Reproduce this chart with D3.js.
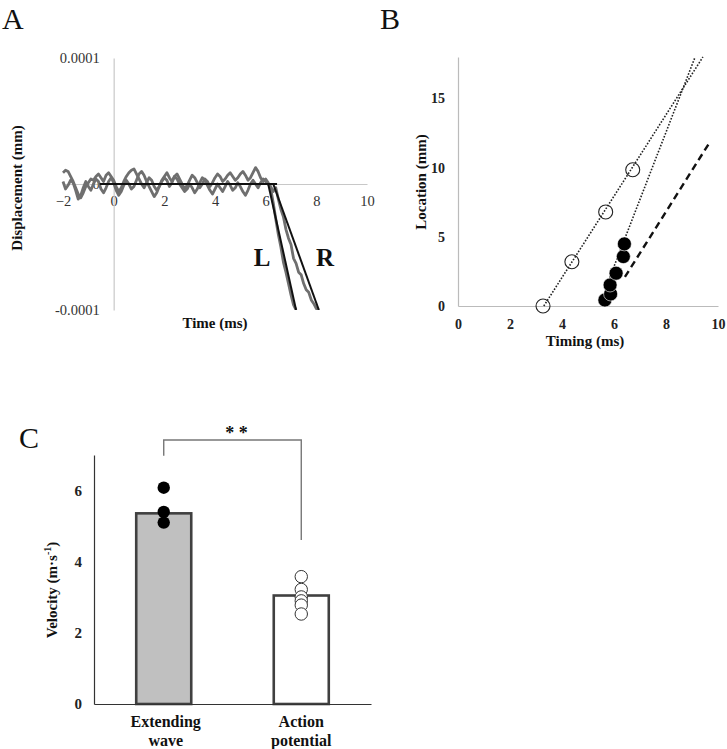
<!DOCTYPE html>
<html>
<head>
<meta charset="utf-8">
<script src="https://cdn.jsdelivr.net/npm/d3@7"></script>
<style>
body { margin: 0; background: #fff; }
text { font-family: "Liberation Serif", "Times New Roman", serif; }
</style>
</head>
<body>
<div id="chart"></div>
<script>
// ---- Panel A: displacement traces (units of 1e-5 mm), sampled every 0.1 ms from -2 ms
const traceStart = -2, traceStep = 0.1;
const traceL = [
  0.9, 1.1, 1.0, 0.6, 0.2, -0.3, -0.8, -1.1, -0.7, -0.2,
  0.1, 0.4, 0.3, 0.6, 0.8, 0.5, 0.2, 0.7, 0.9, 0.6,
  0.3, -0.2, -0.6, -0.3, 0.2, 0.6, 0.9, 1.1, 1.2, 0.8,
  0.4, 0.0, -0.3, 0.1, 0.5, 0.3, -0.2, -0.5, -0.2, 0.3,
  0.6, 0.9, 0.5, 0.2, 0.6, 0.8, 0.4, 0.0, -0.4, -0.1,
  0.3, 0.7, 0.5, 0.1, -0.3, 0.0, 0.4, 0.2, -0.2, 0.1,
  0.5, 0.8, 0.6, 0.2, 0.4, 0.7, 0.9, 0.6, 0.3, 0.5,
  0.8, 1.0, 0.7, 0.3, 0.5, 0.9, 1.3, 1.0, 0.5, 0.2,
  0.4, 0.1, -0.4, -1.5, -2.8, -4.0, -5.0, -6.2, -7.0, -7.9,
  -8.8, -9.6, -10.0
];
const traceR = [
  0.2, -0.4, -0.1, 0.3, 0.1, -0.5, -1.2, -0.9, -0.3, 0.2,
  -0.2, -0.5, 0.0, 0.4, 0.2, -0.4, -0.7, -0.3, 0.2, 0.5,
  0.1, -0.5, -0.9, -0.6, -0.1, 0.3, 0.0, -0.4, -0.2, 0.3,
  0.8, 1.0, 0.7, 0.2, -0.2, -0.6, -1.0, -0.7, -0.2, 0.2,
  0.5, 0.3, -0.2, 0.1, 0.6, 0.4, 0.0, -0.3, -0.6, -0.4,
  0.0, -0.3, -0.7, -0.4, 0.1, 0.5, 0.3, -0.1, -0.5, -0.8,
  -0.4, 0.0, -0.3, -0.6, -0.2, 0.2, -0.1, -0.5, -0.3, 0.1,
  -0.2, -0.6, -0.9, -0.5, 0.0, 0.3, 0.0, -0.3, 0.1, 0.4,
  0.2, 0.0, -0.2, -0.6, -0.3, -1.2, -2.0, -2.6, -3.6, -4.3,
  -4.8, -5.9, -6.3, -7.0, -7.2, -7.9, -8.4, -8.6, -9.2, -9.5,
  -9.9, -10.0
];
const fitFlat = [[-0.55, 0], [6.45, 0]];
const fitL = [[6.1, 0], [7.2, -10]];
const fitR = [[6.3, 0], [8.1, -10]];
const timeTicks = [-2, 0, 2, 4, 6, 8, 10];
const dispTicks = [-10, 0, 10];
const dispTickLabels = ["-0.0001", "0", "0.0001"];

// ---- Panel B: location vs timing
const openTiming = [3.27, 4.38, 5.68, 6.72];
const openLocation = [0, 3.2, 6.8, 9.85];
const filledTiming = [5.65, 5.87, 5.85, 6.08, 6.36, 6.40];
const filledLocation = [0.43, 0.87, 1.52, 2.37, 3.57, 4.49];
const fitOpen = [[3.3, 0], [9.42, 18]];
const fitFilled = [[5.7, 1.4], [9.12, 18]];
const fitDashed = [[6.42, 2.1], [9.67, 11.8]];
const timingTicks = [0, 2, 4, 6, 8, 10];
const locationTicks = [0, 5, 10, 15];

// ---- Panel C: velocity
const categories = ["Extending wave", "Action potential"];
const meanVelocity = [5.36, 3.05];
const extendingPoints = [6.08, 5.4, 5.1];
const actionPoints = [3.58, 3.22, 3.01, 2.9, 2.78, 2.53];
const velocityTicks = [0, 2, 4, 6];

const svg = d3.select("#chart").append("svg")
  .attr("width", 727)
  .attr("height", 749);

function letter(x, y, t) {
  svg.append("text").attr("x", x).attr("y", y)
    .attr("font-size", 30).attr("fill", "#111").text(t);
}

function styleAxis(g, color, fontSize, bold, textColor) {
  g.select(".domain").attr("stroke", color).attr("stroke-width", 1.2);
  g.selectAll("text")
    .attr("font-size", fontSize)
    .attr("font-weight", bold ? "bold" : "normal")
    .attr("fill", textColor)
    .attr("font-family", "'Liberation Serif', serif");
}

// ================= Panel A =================
letter(2, 29, "A");
const xA = d3.scaleLinear().domain([-2, 10]).range([63, 367]);
const yA = d3.scaleLinear().domain([-10, 10]).range([310, 58]);

const axA_x = svg.append("g")
  .attr("transform", `translate(0,${yA(0)})`)
  .call(d3.axisBottom(xA).tickValues(timeTicks).tickSize(0).tickPadding(12));
styleAxis(axA_x, "#c8c8c8", 14.5, false, "#333");

const axA_y = svg.append("g")
  .attr("transform", `translate(${xA(0)},0)`)
  .call(d3.axisLeft(yA).tickValues(dispTicks).tickSize(0).tickPadding(14)
    .tickFormat((d, i) => dispTickLabels[i]));
styleAxis(axA_y, "#c8c8c8", 14.5, false, "#333");

svg.append("clipPath").attr("id", "clipA")
  .append("rect").attr("x", 50).attr("y", yA(10)).attr("width", 330).attr("height", yA(-10) - yA(10));

const lineA = d3.line().x(d => xA(d[0])).y(d => yA(d[1]));
const toPts = arr => arr.map((v, i) => [traceStart + i * traceStep, v]);

const gA = svg.append("g").attr("clip-path", "url(#clipA)");
[traceL, traceR].forEach(tr => {
  gA.append("path").datum(toPts(tr))
    .attr("d", lineA)
    .attr("fill", "none")
    .attr("stroke", "#6f6f6f")
    .attr("stroke-width", 2.8)
    .attr("stroke-linejoin", "round");
});
[fitFlat, fitL, fitR].forEach(f => {
  gA.append("path").datum(f)
    .attr("d", lineA)
    .attr("fill", "none")
    .attr("stroke", "#111")
    .attr("stroke-width", 2);
});

svg.append("text").attr("x", 262).attr("y", 266).attr("text-anchor", "middle")
  .attr("font-size", 25).attr("font-weight", "bold").attr("fill", "#111").text("L");
svg.append("text").attr("x", 325).attr("y", 266).attr("text-anchor", "middle")
  .attr("font-size", 25).attr("font-weight", "bold").attr("fill", "#111").text("R");

svg.append("text").attr("x", 215).attr("y", 328).attr("text-anchor", "middle")
  .attr("font-size", 15).attr("font-weight", "bold").attr("fill", "#111").text("Time (ms)");
svg.append("text")
  .attr("transform", "translate(22,188) rotate(-90)")
  .attr("text-anchor", "middle")
  .attr("font-size", 15).attr("font-weight", "bold").attr("fill", "#111").text("Displacement (mm)");

// ================= Panel B =================
letter(380, 29, "B");
const xB = d3.scaleLinear().domain([0, 10]).range([458, 718]);
const yB = d3.scaleLinear().domain([0, 18]).range([306, 57]);

const axB_x = svg.append("g")
  .attr("transform", `translate(0,${yB(0)})`)
  .call(d3.axisBottom(xB).tickValues(timingTicks).tickSize(0).tickPadding(13));
styleAxis(axB_x, "#bbbbbb", 14, true, "#222");

const axB_y = svg.append("g")
  .attr("transform", `translate(${xB(0)},0)`)
  .call(d3.axisLeft(yB).tickValues(locationTicks).tickSize(0).tickPadding(13));
styleAxis(axB_y, "#bbbbbb", 14, true, "#222");

const lineB = d3.line().x(d => xB(d[0])).y(d => yB(d[1]));
[fitOpen, fitFilled].forEach(f => {
  svg.append("path").datum(f).attr("d", lineB)
    .attr("fill", "none").attr("stroke", "#222")
    .attr("stroke-width", 1.6).attr("stroke-dasharray", "1.6,1.6");
});
svg.append("path").datum(fitDashed).attr("d", lineB)
  .attr("fill", "none").attr("stroke", "#111")
  .attr("stroke-width", 2.4).attr("stroke-dasharray", "7,4.5");

svg.append("g").selectAll("circle")
  .data(openTiming.map((t, i) => [t, openLocation[i]]))
  .join("circle")
  .attr("cx", d => xB(d[0])).attr("cy", d => yB(d[1])).attr("r", 7)
  .attr("fill", "none").attr("stroke", "#222").attr("stroke-width", 1.1);

svg.append("g").selectAll("circle")
  .data(filledTiming.map((t, i) => [t, filledLocation[i]]))
  .join("circle")
  .attr("cx", d => xB(d[0])).attr("cy", d => yB(d[1])).attr("r", 7)
  .attr("fill", "#000").attr("stroke", "#fff").attr("stroke-width", 0.6);

svg.append("text").attr("x", 585).attr("y", 346).attr("text-anchor", "middle")
  .attr("font-size", 15).attr("font-weight", "bold").attr("fill", "#111").text("Timing (ms)");
svg.append("text")
  .attr("transform", "translate(426,182) rotate(-90)")
  .attr("text-anchor", "middle")
  .attr("font-size", 15).attr("font-weight", "bold").attr("fill", "#111").text("Location (mm)");

// ================= Panel C =================
letter(19, 448, "C");
const xC = d3.scaleBand().domain(categories).range([94, 371])
  .paddingInner(0.6).paddingOuter(0.307);
const yC = d3.scaleLinear().domain([0, 7]).range([704, 455]);

const axC_y = svg.append("g")
  .attr("transform", `translate(94,0)`)
  .call(d3.axisLeft(yC).tickValues(velocityTicks).tickSize(0).tickPadding(12)
    .tickFormat(d3.format("d")));
styleAxis(axC_y, "#333", 15, true, "#222");

svg.append("g").selectAll("rect")
  .data(categories)
  .join("rect")
  .attr("x", d => xC(d))
  .attr("y", (d, i) => yC(meanVelocity[i]))
  .attr("width", xC.bandwidth())
  .attr("height", (d, i) => yC(0) - yC(meanVelocity[i]))
  .attr("fill", (d, i) => i === 0 ? "#c0c0c0" : "#fff")
  .attr("stroke", "#404040")
  .attr("stroke-width", 2.6);

const axC_x = svg.append("g")
  .attr("transform", `translate(0,${yC(0)})`)
  .call(d3.axisBottom(xC).tickSize(0).tickSizeOuter(0).tickFormat(""));
styleAxis(axC_x, "#333", 15, true, "#222");

const cx1 = xC(categories[0]) + xC.bandwidth() / 2;
const cx2 = xC(categories[1]) + xC.bandwidth() / 2;

svg.append("g").selectAll("circle")
  .data(extendingPoints)
  .join("circle")
  .attr("cx", cx1).attr("cy", d => yC(d)).attr("r", 6.2)
  .attr("fill", "#000");

svg.append("g").selectAll("circle")
  .data(actionPoints)
  .join("circle")
  .attr("cx", cx2).attr("cy", d => yC(d)).attr("r", 6.2)
  .attr("fill", "#fff").attr("stroke", "#333").attr("stroke-width", 1);

// category labels
categories.forEach((c, i) => {
  const words = c.split(" ");
  const x = i === 0 ? cx1 + 2 : cx2;
  const t = svg.append("text")
    .attr("x", x)
    .attr("y", 727)
    .attr("text-anchor", "middle")
    .attr("font-size", 16).attr("font-weight", "bold").attr("fill", "#111");
  words.forEach((w, j) => {
    t.append("tspan").attr("x", x).attr("dy", j === 0 ? 0 : 18.5).text(w);
  });
});

// significance bracket
const yBracket = yC(7.42);
svg.append("path")
  .attr("d", `M${cx1},${yC(6.98)}V${yBracket}H${cx2}V${yC(4.61)}`)
  .attr("fill", "none").attr("stroke", "#777").attr("stroke-width", 1.4);
svg.append("text").attr("x", (cx1 + cx2) / 2 + 4).attr("y", yBracket - 1)
  .attr("text-anchor", "middle")
  .attr("font-size", 18).attr("font-weight", "bold").attr("fill", "#111").text("* *");

const yl = svg.append("text")
  .attr("transform", "translate(57,590) rotate(-90)")
  .attr("text-anchor", "middle")
  .attr("font-size", 15).attr("font-weight", "bold").attr("fill", "#111");
yl.append("tspan").text("Velocity (m·s");
yl.append("tspan").attr("font-size", 10).attr("dy", -6).text("-1");
yl.append("tspan").attr("dy", 6).text(")");
</script>
</body>
</html>
